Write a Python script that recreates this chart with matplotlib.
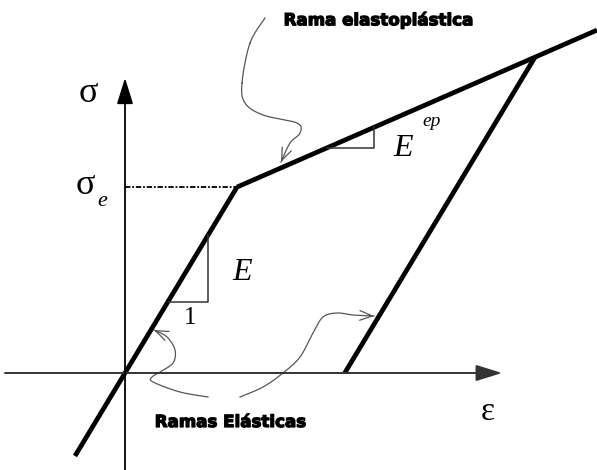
import numpy as np
import matplotlib.pyplot as plt
import matplotlib.patheffects as pe

# material data (arbitrary units)
E_el = 1.66        # elastic modulus
E_ep = 0.436       # elastoplastic modulus
eps_y = 1.12       # yield strain
eps_max = 4.10     # strain at unloading
eps_end = 4.72     # end of plastic branch drawn
eps_start = -0.50  # start of elastic branch drawn

# curly pointer paths (strain, stress)
top_curl_x = [1.40, 1.25, 1.17, 1.20, 1.38, 1.72, 1.75, 1.65, 1.56]
top_curl_y = [3.55, 3.30, 2.90, 2.70, 2.58, 2.50, 2.40, 2.30, 2.11]
left_curl_x = [0.83, 0.55, 0.28, 0.27, 0.35, 0.48, 0.50, 0.42, 0.29]
left_curl_y = [-0.24, -0.19, -0.09, -0.04, 0.01, 0.10, 0.23, 0.36, 0.43]
right_curl_x = [1.15, 1.38, 1.58, 1.75, 1.88, 1.98, 2.12, 2.28, 2.49]
right_curl_y = [-0.24, -0.14, 0.00, 0.16, 0.40, 0.56, 0.60, 0.58, 0.57]

sig_y = E_el * eps_y
sig_max = sig_y + E_ep * (eps_max - eps_y)
eps_res = eps_max - sig_max / E_el


def catmull(xs, ys, n=20):
    """Smooth curve through the given points."""
    p = np.column_stack([xs, ys])
    p = np.vstack([p[0], p, p[-1]])
    out = []
    t = np.linspace(0, 1, n)[:, None]
    for i in range(1, len(p) - 2):
        p0, p1, p2, p3 = p[i - 1], p[i], p[i + 1], p[i + 2]
        seg = 0.5 * ((2 * p1) + (-p0 + p2) * t + (2 * p0 - 5 * p1 + 4 * p2 - p3) * t ** 2
                     + (-p0 + 3 * p1 - 3 * p2 + p3) * t ** 3)
        out.append(seg)
    return np.vstack(out)


def curl(ax, xs, ys):
    c = catmull(xs, ys)
    ax.plot(c[:, 0], c[:, 1], color='#555555', lw=0.9)
    ax.annotate('', xy=(xs[-1], ys[-1]), xytext=(c[-6, 0], c[-6, 1]),
                arrowprops=dict(arrowstyle='->,head_length=0.9,head_width=0.35',
                                color='#555555', lw=0.9, shrinkA=0, shrinkB=0))


fig = plt.figure(figsize=(5.97, 4.70), dpi=100)
ax = fig.add_axes([0, 0, 1, 1])
ax.set_xlim(-1.25, 4.72)
ax.set_ylim(-0.97, 3.73)
ax.axis('off')

# coordinate axes
ax.annotate('', xy=(3.77, 0), xytext=(-1.20, 0),
            arrowprops=dict(arrowstyle='-|>,head_length=1.6,head_width=0.5',
                            color='#333333', lw=1.4, shrinkA=0, shrinkB=0))
ax.annotate('', xy=(0, 2.95), xytext=(0, -0.97),
            arrowprops=dict(arrowstyle='-|>,head_length=1.6,head_width=0.5',
                            color='black', lw=1.3, shrinkA=0, shrinkB=0))

# yield stress level
ax.plot([0, eps_y], [sig_y, sig_y], color='black', lw=1.3, ls=(0, (3, 1, 1, 1)))

# stress-strain path
ax.plot([eps_start, eps_y], [E_el * eps_start, sig_y], color='black', lw=3.4,
        solid_capstyle='butt')
ax.plot([eps_y, eps_end], [sig_y, sig_y + E_ep * (eps_end - eps_y)], color='black', lw=3.4,
        solid_capstyle='butt')
ax.plot([eps_max, eps_res], [sig_max, 0], color='black', lw=3.4, solid_capstyle='butt')

# slope triangles
tx = 0.83
ty = 0.71
ax.plot([ty / E_el, tx, tx], [ty, ty, E_el * tx], color='#333333', lw=1.1)
ty2 = 2.25
tx2 = 2.49
ax.plot([eps_y + (ty2 - sig_y) / E_ep, tx2, tx2],
        [ty2, ty2, sig_y + E_ep * (tx2 - eps_y)], color='#333333', lw=1.1)

serif = 'Liberation Serif'
ax.text(-0.37, 2.80, 'σ', family=serif, fontsize=26, ha='center', va='center')
ax.text(-0.40, 1.88, 'σ', family=serif, fontsize=26, ha='center', va='center')
ax.text(-0.23, 1.72, 'e', family=serif, style='italic', fontsize=16, ha='center', va='center')
ax.text(3.63, -0.39, 'ε', family=serif, fontsize=24, ha='center', va='center')
ax.text(1.17, 1.01, 'E', family=serif, style='italic', fontsize=23, ha='center', va='center')
ax.text(0.65, 0.55, '1', family=serif, fontsize=18, ha='center', va='center')
ax.text(2.78, 2.25, 'E', family=serif, style='italic', fontsize=23, ha='center', va='center')
ax.text(3.07, 2.52, 'ep', family=serif, style='italic', fontsize=14, ha='center', va='center')

heavy = [pe.withStroke(linewidth=0.9, foreground='black')]
ax.text(2.53, 3.53, 'Rama elastoplástica', fontsize=12, fontweight='heavy',
        ha='center', va='center', path_effects=heavy)
ax.text(1.05, -0.49, 'Ramas Elásticas', fontsize=12, fontweight='heavy',
        ha='center', va='center', path_effects=heavy)

curl(ax, top_curl_x, top_curl_y)
curl(ax, left_curl_x, left_curl_y)
curl(ax, right_curl_x, right_curl_y)

fig.savefig('out.png', dpi=100)
